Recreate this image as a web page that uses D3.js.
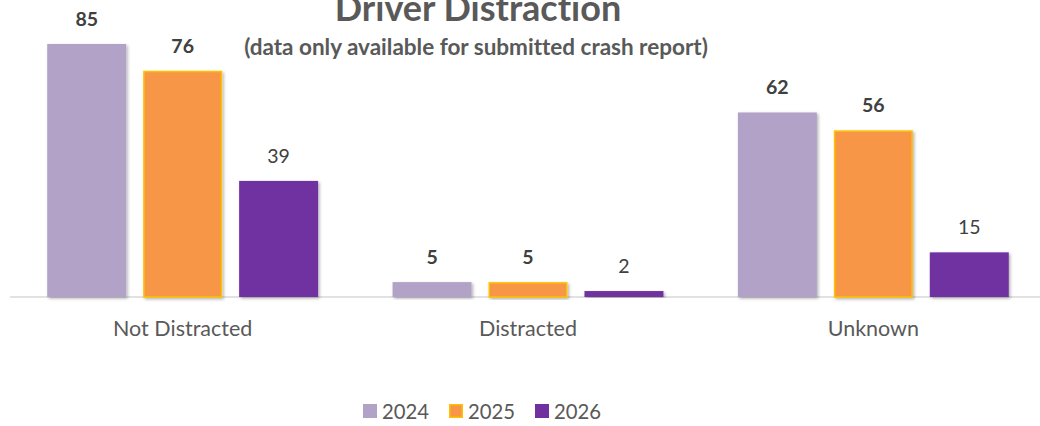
<!DOCTYPE html>
<html><head><meta charset="utf-8">
<script src="https://cdn.jsdelivr.net/npm/d3@7"></script>
<style>
html,body{margin:0;padding:0;background:#fff;}
svg{display:block;font-family:Lato,"Open Sans",sans-serif;font-variant-ligatures:none;}
</style></head>
<body>
<svg id="chart" width="1040" height="426"></svg>
<script>
const categories = ["Not Distracted", "Distracted", "Unknown"];
const seriesNames = ["2024", "2025", "2026"];
const values2024 = [85, 5, 62];
const values2025 = [76, 5, 56];
const values2026 = [39, 2, 15];
const titleText = "Driver Distraction";
const subtitleText = "(data only available for submitted crash report)";

const series = [
  {name: seriesNames[0], values: values2024, fill: "#B3A2C7", stroke: "none", bold: true},
  {name: seriesNames[1], values: values2025, fill: "#F79646", stroke: "#FFC000", bold: true},
  {name: seriesNames[2], values: values2026, fill: "#7030A0", stroke: "none", bold: false}
];

const svg = d3.select("#chart");
const defs = svg.append("defs");
const f = defs.append("filter").attr("id","sh").attr("x","-10%").attr("y","-10%").attr("width","125%").attr("height","125%");
f.append("feDropShadow").attr("dx",1.5).attr("dy",1.5).attr("stdDeviation",1.5).attr("flood-color","#000").attr("flood-opacity",0.3);

const baseY = 297;
const y = d3.scaleLinear().domain([0, 85]).range([baseY, 44]);
const x0 = d3.scaleBand().domain(categories).range([10, 1046]).paddingInner(0).paddingOuter(0);
const x1 = d3.scaleBand().domain(seriesNames).range([0, x0.bandwidth()]).paddingInner(0.177).paddingOuter(0.388);

// axis line
svg.append("line").attr("x1",10).attr("x2",1040).attr("y1",baseY).attr("y2",baseY)
  .attr("stroke","#D9D9D9").attr("stroke-width",1.5);

const g = svg.append("g");
series.forEach(s => {
  const gs = g.append("g");
  const sw = s.stroke !== "none" ? 0.75 : 0;
  gs.selectAll("rect").data(s.values).join("rect")
    .attr("x",(d,i)=>x0(categories[i]) + x1(s.name) + sw)
    .attr("y",d=>y(d) + sw)
    .attr("width",x1.bandwidth() - 2*sw)
    .attr("height",d=>baseY - y(d) - sw)
    .attr("fill",s.fill)
    .attr("stroke",s.stroke).attr("stroke-width",1.5)
    .attr("filter","url(#sh)");
  gs.selectAll("text").data(s.values).join("text")
    .attr("x",(d,i)=>x0(categories[i]) + x1(s.name) + x1.bandwidth()/2)
    .attr("y",d=>y(d) - 18)
    .attr("text-anchor","middle")
    .attr("font-size",19.5)
    .attr("font-weight",s.bold?"bold":"normal")
    .attr("fill","#404040")
    .text(d=>d);
});

// category labels
const xAxis = d3.axisBottom(x0).tickSize(0).tickPadding(0);
const ax = svg.append("g").attr("transform",`translate(0,${baseY})`).call(xAxis);
ax.select(".domain").remove();
ax.selectAll("text").attr("y",39).attr("dy",0).attr("font-size",21.5).attr("fill","#595959").attr("font-family","Lato,'Open Sans',sans-serif");

// titles
svg.append("text").attr("x",478).attr("y",21).attr("text-anchor","middle")
  .attr("font-size",36).attr("font-weight","bold").attr("fill","#595959").text(titleText);
svg.append("text").attr("x",476).attr("y",55).attr("text-anchor","middle")
  .attr("font-size",22.5).attr("font-weight","bold").attr("fill","#595959").text(subtitleText);

// legend
const leg = svg.append("g");
const legX = [363, 449, 535];
series.forEach((s,i)=>{
  const sw = s.stroke !== "none" ? 0.75 : 0;
  leg.append("rect").attr("x",legX[i]+sw).attr("y",404+sw).attr("width",14-2*sw).attr("height",14-2*sw)
    .attr("fill",s.fill).attr("stroke",s.stroke).attr("stroke-width",1.5);
  leg.append("text").attr("x",legX[i]+19).attr("y",418.5).attr("font-size",20.3).attr("fill","#595959").text(s.name);
});
</script>
</body></html>
